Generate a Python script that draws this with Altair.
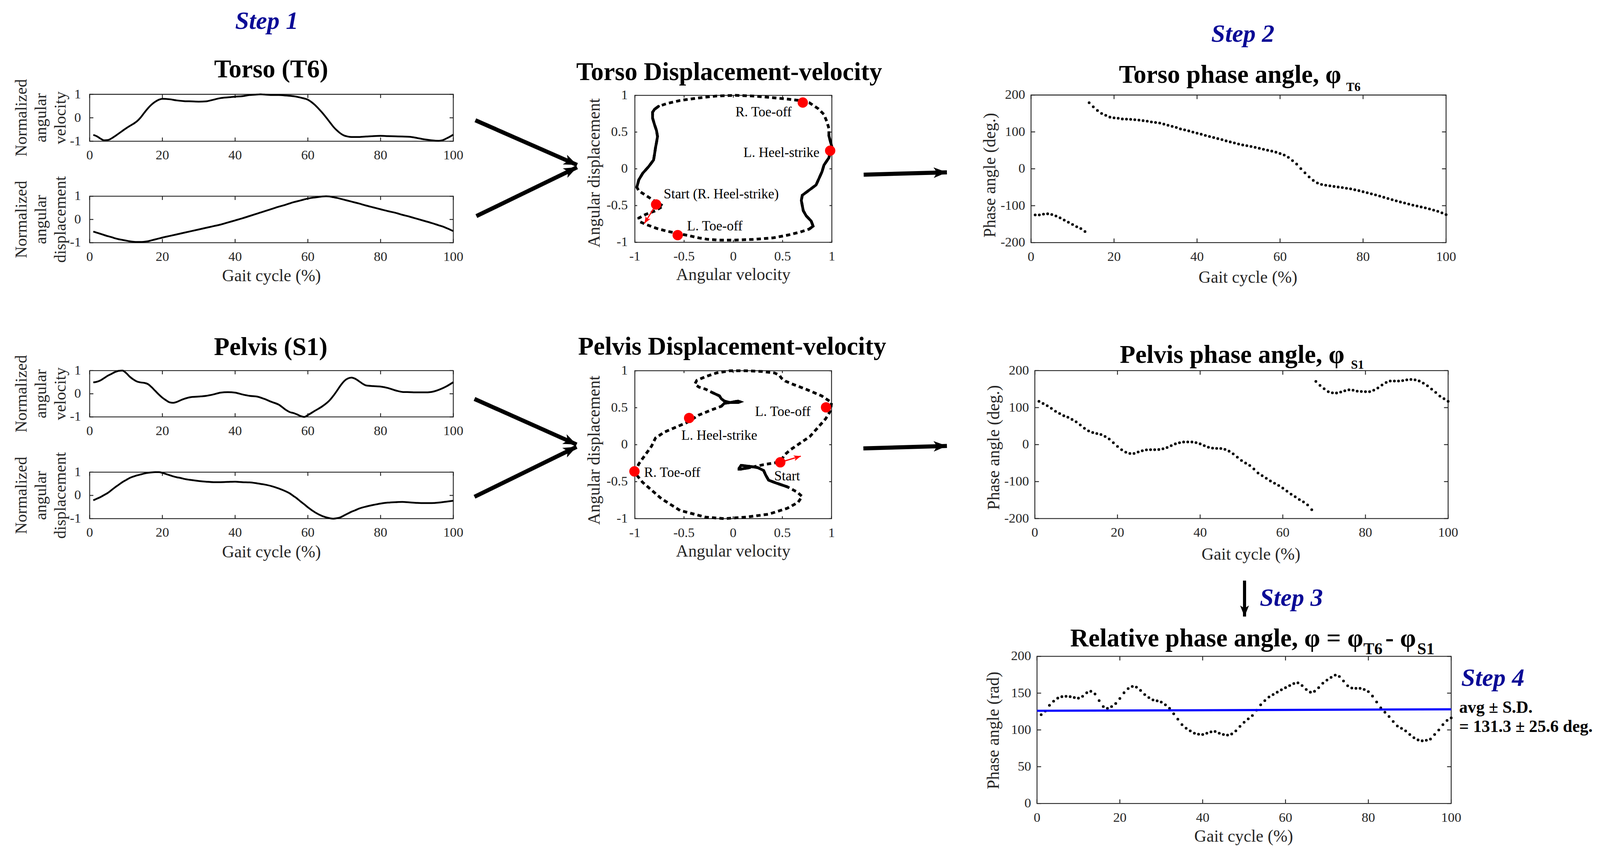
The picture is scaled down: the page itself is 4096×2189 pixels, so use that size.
import math
import altair as alt
import pandas as pd

# ------------------------------------------------------------------
# Values
# ------------------------------------------------------------------
gait_ticks = [0, 20, 40, 60, 80, 100]
norm_ticks = [-1, 0, 1]
portrait_ticks = [-1, -0.5, 0, 0.5, 1]
phase_ticks = [-200, -100, 0, 100, 200]
rel_ticks = [0, 50, 100, 150, 200]

# Torso (T6) normalized angular velocity / displacement vs gait cycle (%)
torso_t = (list(range(1, 21)) + list(range(22, 47, 2)) + [47] + list(range(48, 61, 2))
           + list(range(61, 73)) + list(range(74, 97, 2)) + [97, 98, 99, 100])
torso_vel = [-0.73, -0.79, -0.89, -0.96, -0.95, -0.88, -0.78, -0.67, -0.56, -0.45,
             -0.35, -0.26, -0.15, 0.01, 0.21, 0.40, 0.56, 0.68, 0.77, 0.81,
             0.79, 0.74, 0.71, 0.70, 0.69, 0.70, 0.77, 0.84, 0.87, 0.90, 0.92, 0.97, 0.99,
             1.00,
             0.99, 0.97, 0.97, 0.95, 0.92, 0.86, 0.77,
             0.67, 0.54, 0.38, 0.21, 0.02, -0.18, -0.38, -0.54, -0.67, -0.76, -0.80, -0.82,
             -0.82, -0.80, -0.78, -0.77, -0.78, -0.79, -0.80, -0.81, -0.86, -0.92, -0.96, -0.98,
             -0.96, -0.89, -0.81, -0.72]
torso_disp = [-0.52, -0.57, -0.62, -0.67, -0.72, -0.76, -0.81, -0.85, -0.88, -0.91,
              -0.94, -0.96, -0.97, -0.97, -0.96, -0.94, -0.90, -0.86, -0.82, -0.78,
              -0.71, -0.64, -0.57, -0.50, -0.43, -0.36, -0.29, -0.22, -0.13, -0.04, 0.05, 0.15, 0.25,
              0.30,
              0.35, 0.45, 0.55, 0.64, 0.74, 0.82, 0.90,
              0.93, 0.95, 0.97, 0.99, 1.00, 0.99, 0.96, 0.93, 0.89, 0.85, 0.81, 0.77,
              0.69, 0.60, 0.52, 0.44, 0.36, 0.29, 0.20, 0.12, 0.03, -0.06, -0.15, -0.25,
              -0.30, -0.36, -0.43, -0.50]

# Pelvis (S1)
pelvis_t = (list(range(1, 27)) + list(range(28, 55, 2)) + list(range(55, 61)) + [62, 64, 66]
            + list(range(67, 77)) + list(range(78, 101, 2)))
pelvis_vel = [0.49, 0.52, 0.58, 0.68, 0.78, 0.86, 0.94, 0.99, 1.00, 0.90,
              0.74, 0.62, 0.53, 0.49, 0.47, 0.42, 0.29, 0.13, -0.03, -0.17,
              -0.28, -0.37, -0.39, -0.35, -0.28, -0.22,
              -0.14, -0.12, -0.09, -0.03, 0.05, 0.07, 0.05, -0.03, -0.09, -0.12, -0.22, -0.35, -0.47, -0.70,
              -0.79, -0.83, -0.89, -0.96, -1.00, -0.92,
              -0.73, -0.54, -0.28,
              -0.09, 0.13, 0.36, 0.55, 0.66, 0.70, 0.65, 0.55, 0.44, 0.36,
              0.33, 0.31, 0.25, 0.15, 0.08, 0.07, 0.06, 0.06, 0.08, 0.17, 0.31, 0.50]
pelvis_disp = [-0.21, -0.14, -0.07, 0.02, 0.11, 0.23, 0.35, 0.46, 0.57, 0.66,
               0.75, 0.81, 0.86, 0.90, 0.94, 0.97, 0.99, 1.00, 1.00, 0.97,
               0.92, 0.87, 0.82, 0.78, 0.75, 0.71,
               0.66, 0.62, 0.59, 0.57, 0.57, 0.58, 0.59, 0.57, 0.56, 0.52, 0.47, 0.40, 0.30, 0.17,
               0.09, -0.02, -0.13, -0.26, -0.38, -0.51,
               -0.73, -0.89, -0.98,
               -1.00, -0.98, -0.94, -0.86, -0.78, -0.70, -0.64, -0.57, -0.52, -0.48,
               -0.41, -0.35, -0.31, -0.29, -0.28, -0.30, -0.32, -0.33, -0.33, -0.31, -0.27, -0.23]

# stretches of the displacement-velocity loops that look solid (gait cycle %)
torso_solid = [(19, 50), (70, 96)]
pelvis_solid = [(26, 46), (74, 96)]

# events on the displacement-velocity loops (velocity, displacement)
torso_ev_name = ["Start (R. Heel-strike)", "L. Heel-strike", "R. Toe-off", "L. Toe-off"]
torso_ev_x = [-0.784, 0.983, 0.705, -0.565]
torso_ev_y = [-0.485, 0.247, 0.902, -0.902]
pelvis_ev_name = ["Start", "L. Toe-off", "L. Heel-strike", "R. Toe-off"]
pelvis_ev_x = [0.479, 0.944, -0.448, -1.004]
pelvis_ev_y = [-0.238, 0.505, 0.361, -0.361]

# phase angles (deg.) at each % of the gait cycle
phase_t = list(range(1, 101))
torso_phase = [-125, -125, -123, -122, -124, -128, -133, -139, -145, -151,
               -157, -162, -170, 179, 168, 158, 150, 145, 140, 138,
               137, 135, 134.5, 134, 133, 132, 130.5, 129, 127, 125.5,
               124, 121, 118, 115, 112, 108, 105.5, 102.7, 99.4, 96.5,
               93.7, 90.4, 87.5, 84.7, 81.8, 79, 75.7, 72.8, 70, 67,
               64.6, 62.6, 60.5, 58, 55.6, 52.8, 50.3, 47.9, 45, 41.3,
               37.2, 31, 22, 12.7, 0.4, -11, -22, -31.5, -38.4, -42.5,
               -44.6, -46.2, -47.9, -49.5, -51, -52.8, -54.4, -56.9, -59.3, -62.2,
               -65, -68, -70.8, -74, -77.3, -80.6, -83.8, -87, -90, -92.8,
               -95.7, -98.6, -101, -103.5, -106, -108.8, -112, -115.3, -119.4, -124.3]
pelvis_phase = [117, 111, 105, 98, 90, 84, 78, 74, 68, 61.5,
                53, 44, 37, 32.6, 29.8, 27.3, 22, 15, 5, -5,
                -14, -20.5, -24, -24, -20, -16.7, -14.3, -13.8, -13.8, -13.3,
                -11.3, -7.8, -2.8, 2, 5, 7, 7.2, 7, 5.3, 2,
                -2.8, -7.2, -9.4, -10.2, -10.5, -12.9, -17.8, -25, -34, -43,
                -50, -56.5, -66, -76.7, -84, -91, -98.3, -104.5, -110.5, -117.8,
                -125.8, -134, -141, -148.5, -155, -163, -176, 170.7, 160, 151,
                143, 140, 139.5, 142, 145.5, 148, 147, 144.5, 143.5, 143,
                143, 147, 153, 161, 168, 171.8, 171.8, 171.8, 173, 175,
                176, 175, 172, 166, 159, 150, 141, 131, 124, 117]
rel_phase = [120.7, 125.6, 133.4, 139, 143.2, 145.2, 145.7, 145.2, 144, 143.2,
             145.7, 150.5, 152.5, 148.8, 139.8, 131.7, 129.3, 131.7, 135.9, 142.7,
             150.5, 156.2, 159.1, 158.1, 153.7, 148.1, 143.9, 140.8, 139.5, 137.8,
             134.1, 129.3, 121.9, 114.6, 107.2, 102.3, 98.7, 95.5, 94.2, 93.8,
             95.5, 97.4, 97.9, 95.5, 93.8, 93, 94.5, 98.7, 104.8, 110.4,
             115, 119.5, 126.8, 134.1, 139.8, 144.7, 148.1, 151.3, 154.5, 157.4,
             160.3, 163, 164, 160.3, 155, 151.3, 152.5, 157.4, 163.5, 167.7,
             171.4, 174.5, 172.6, 166.5, 160, 157, 156.5, 156.5, 155, 152,
             146, 138, 130, 124, 118.2, 111.4, 105.3, 102.1, 98.7, 93.8,
             89.4, 86.4, 85.2, 85.9, 87.6, 93.8, 99.9, 107.2, 112.9, 116.3]
avg_t = [0, 100]
avg_val = [126, 128]

# ------------------------------------------------------------------
# Layout (reference pixels -> page pixels)
# ------------------------------------------------------------------
S = 4096.0 / 5478.0
OFF = 8.0
W, H = 4078, 2170
FONT = "Liberation Serif"
AXC = "#262626"
NAVY = "#0b0b96"
RED = "#ff0000"
LBL = 34.4
TTL = 43.4
FW = 2.3
HEAD = "M0,0L-2,-0.8L-1.5,0L-2,0.8Z"


def px(v):
    return v * S - OFF


# panel boxes in reference pixels: left, top, right, bottom
BOX = {
    "tv": (307, 323, 1552, 483.6),
    "td": (307, 672, 1552, 831),
    "pv": (307, 1269, 1552, 1427.6),
    "pd": (307, 1616.7, 1552, 1776),
    "tp": (2173.6, 326.4, 2848, 829.7),
    "pp": (2173.5, 1269.4, 2847, 1775.8),
    "ta": (3530, 325.3, 4951, 830.6),
    "pa": (3543, 1269, 4958, 1775.7),
    "ra": (3550.5, 2247.4, 4968.5, 2751.2),
}


def pbox(key):
    return [px(v) for v in BOX[key]]


def scales(key, xdom, ydom):
    L, T, R, B = pbox(key)
    return (alt.Scale(domain=xdom, range=[L, R], nice=False, zero=False),
            alt.Scale(domain=ydom, range=[B, T], nice=False, zero=False))


def qx(v, xs):
    return alt.XDatum(v, scale=xs, axis=None, type="quantitative")


def qy(v, ys):
    return alt.YDatum(v, scale=ys, axis=None, type="quantitative")


def frame(xs, ys, xdom, ydom, xticks, yticks, tl, xpad, ypad):
    """Box, inward ticks and tick labels of one panel, all through its scales."""
    one = pd.DataFrame({"k": [0]})
    rect = alt.Chart(one).mark_rect(filled=False, stroke=AXC, strokeWidth=FW).encode(
        x=qx(xdom[0], xs), x2=alt.X2Datum(xdom[1]),
        y=qy(ydom[0], ys), y2=alt.Y2Datum(ydom[1]))
    xt = pd.DataFrame({"v": xticks, "lab": [f"{v:g}" for v in xticks]})
    yt = pd.DataFrame({"v": yticks, "lab": [f"{v:g}" for v in yticks]})
    out = [rect]
    for yv, off in ((ydom[0], -tl), (ydom[1], tl)):
        out.append(alt.Chart(xt).mark_rule(color=AXC, strokeWidth=FW, y2Offset=off).encode(
            x=alt.X("v:Q", scale=xs, axis=None), y=qy(yv, ys), y2=alt.Y2Datum(yv)))
    for xv, off in ((xdom[0], tl), (xdom[1], -tl)):
        out.append(alt.Chart(yt).mark_rule(color=AXC, strokeWidth=FW, x2Offset=off).encode(
            y=alt.Y("v:Q", scale=ys, axis=None), x=qx(xv, xs), x2=alt.X2Datum(xv)))
    out.append(alt.Chart(xt).mark_text(align="center", baseline="alphabetic", dy=xpad, font=FONT,
                                       fontSize=LBL, color=AXC).encode(
        x=alt.X("v:Q", scale=xs, axis=None), y=qy(ydom[0], ys), text="lab:N"))
    out.append(alt.Chart(yt).mark_text(align="right", baseline="middle", dx=-ypad, font=FONT,
                                       fontSize=LBL, color=AXC).encode(
        y=alt.Y("v:Q", scale=ys, axis=None), x=qx(xdom[0], xs), text="lab:N"))
    return out


def heading(dx, dy):
    return math.degrees(math.atan2(dy, dx)) % 360


# ---------------- time-series panels ----------------
def ts_panel(key, t, v):
    xs, ys = scales(key, [0, 100], [-1, 1])
    df = pd.DataFrame({"t": t, "v": v})
    line = alt.Chart(df).mark_line(color="black", strokeWidth=4.5, interpolate="monotone").encode(
        x=alt.X("t:Q", scale=xs, axis=None), y=alt.Y("v:Q", scale=ys, axis=None))
    return alt.layer(*frame(xs, ys, [0, 100], [-1, 1], gait_ticks, norm_ticks, 9.5, 46.5, 22), line)


# ---------------- displacement-velocity panels ----------------
def portrait_panel(key, t, vel, disp, solid, ev_name, ev_x, ev_y, lab_x, lab_y, arr):
    dom = [-1, 1]
    xs, ys = scales(key, dom, dom)
    L, T, R, B = pbox(key)
    ux, uy = (R - L) / 2.0, (B - T) / 2.0
    df = pd.DataFrame({"t": t, "x": vel, "y": disp})
    dashed = alt.Chart(df).mark_line(color="black", strokeWidth=7, strokeDash=[11, 8],
                                     strokeCap="butt").encode(
        x=alt.X("x:Q", scale=xs, axis=None), y=alt.Y("y:Q", scale=ys, axis=None), order="t:Q")
    rows = []
    for i, (a, b) in enumerate(solid):
        for tt, xx, yy in zip(t, vel, disp):
            if a <= tt <= b:
                rows.append({"t": tt, "x": xx, "y": yy, "seg": i})
    sdf = pd.DataFrame(rows)
    solid_l = alt.Chart(sdf).mark_line(color="black", strokeWidth=7, strokeCap="round").encode(
        x=alt.X("x:Q", scale=xs, axis=None), y=alt.Y("y:Q", scale=ys, axis=None),
        detail="seg:N", order="t:Q")
    (ax0, ay0, ax1, ay1) = arr
    adf = pd.DataFrame({"x": [ax0], "y": [ay0], "x2": [ax1], "y2": [ay1],
                        "a": [heading((ax1 - ax0) * ux, -(ay1 - ay0) * uy)]})
    shaft = alt.Chart(adf).mark_rule(color=RED, strokeWidth=3).encode(
        x=alt.X("x:Q", scale=xs, axis=None), y=alt.Y("y:Q", scale=ys, axis=None),
        x2="x2:Q", y2="y2:Q")
    head = alt.Chart(adf).mark_point(shape=HEAD, filled=True, opacity=1, color=RED,
                                     strokeWidth=0, size=324).encode(
        x=alt.X("x2:Q", scale=xs, axis=None), y=alt.Y("y2:Q", scale=ys, axis=None),
        angle=alt.Angle("a:Q", scale=None))
    edf = pd.DataFrame({"x": ev_x, "y": ev_y})
    dots = alt.Chart(edf).mark_circle(color=RED, opacity=1, size=700).encode(
        x=alt.X("x:Q", scale=xs, axis=None), y=alt.Y("y:Q", scale=ys, axis=None))
    ldf = pd.DataFrame({"x": lab_x, "y": lab_y, "txt": ev_name})
    labels = alt.Chart(ldf).mark_text(align="left", baseline="middle", font=FONT,
                                      fontSize=35, color="black").encode(
        x=alt.X("x:Q", scale=xs, axis=None), y=alt.Y("y:Q", scale=ys, axis=None), text="txt:N")
    return alt.layer(*frame(xs, ys, dom, dom, portrait_ticks, portrait_ticks, 6, 47, 18),
                     dashed, solid_l, shaft, head, dots, labels)


# ---------------- phase-angle panels ----------------
def phase_panel(key, t, vals, ydom, yticks, extra=None):
    xs, ys = scales(key, [0, 100], ydom)
    df = pd.DataFrame({"t": t, "v": vals})
    pts = alt.Chart(df).mark_circle(color="black", opacity=1, size=50).encode(
        x=alt.X("t:Q", scale=xs, axis=None), y=alt.Y("v:Q", scale=ys, axis=None))
    layers = frame(xs, ys, [0, 100], ydom, gait_ticks, yticks, 10.5, 46.5, 15) + [pts]
    if extra is not None:
        et, ev = extra
        ldf = pd.DataFrame({"t": et, "v": ev})
        layers.append(alt.Chart(ldf).mark_line(color="#0000ff", strokeWidth=5.5).encode(
            x=alt.X("t:Q", scale=xs, axis=None), y=alt.Y("v:Q", scale=ys, axis=None)))
    return alt.layer(*layers)


# ---------------- overlay: titles, axis titles, step labels, arrows ----------------
ov_x = alt.Scale(domain=[0, 5478], range=[px(0), px(5478)], nice=False, zero=False)
ov_y = alt.Scale(domain=[0, 2927], range=[px(0), px(2927)], nice=False, zero=False)


def mid(key, i, j):
    return (BOX[key][i] + BOX[key][j]) / 2.0


titles_c = {"txt": ["Torso (T6)", "Pelvis (S1)", "Torso Displacement-velocity",
                    "Pelvis Displacement-velocity"],
            "x": [928.5, 927, 2496.5, 2506.7], "y": [265, 1216, 274, 1215]}
titles_l = {"txt": ["Torso phase angle, φ", "Pelvis phase angle, φ",
                    "Relative phase angle, φ = φ", "- φ"],
            "x": [3831, 3834, 3664, 4743], "y": [283, 1242, 2213, 2213]}
subs = {"txt": ["T6", "S1", "T6", "S1"], "x": [4609, 4625.5, 4668, 4852],
        "y": [311, 1262, 2240, 2240], "s": [31.5, 31.5, 42, 42]}
steps = {"txt": ["Step 1", "Step 2", "Step 3", "Step 4"], "x": [805, 4147, 4313, 5003],
         "y": [99.5, 143.6, 2074, 2348.5]}
notes = {"txt": ["avg ± S.D.", "= 131.3 ± 25.6 deg."], "x": [4996, 4996], "y": [2441, 2506]}
xtitles = {"txt": ["Gait cycle (%)", "Gait cycle (%)", "Angular velocity", "Angular velocity",
                   "Gait cycle (%)", "Gait cycle (%)", "Gait cycle (%)"],
           "x": [mid("td", 0, 2), mid("pd", 0, 2), mid("tp", 0, 2), mid("pp", 0, 2),
                 4272.7, 4283, 4258],
           "y": [BOX["td"][3] + 132.4, BOX["pd"][3] + 132.4, BOX["tp"][3] + 129.7,
                 BOX["pp"][3] + 129.7, BOX["ta"][3] + 137.8, BOX["pa"][3] + 140.4,
                 BOX["ra"][3] + 131]}
ytitles = {"txt": ["Angular displacement", "Angular displacement", "Phase angle (deg.)",
                   "Phase angle (deg.)", "Phase angle (rad)"],
           "x": [2053, 2053, 3408, 3421, 3419.5],
           "y": [mid("tp", 1, 3) + 14, mid("pp", 1, 3) + 19, mid("ta", 1, 3) + 22,
                 mid("pa", 1, 3) + 10, mid("ra", 1, 3) + 2]}
ytitles3 = {"txt": ["Normalized\nangular\nvelocity", "Normalized\nangular\ndisplacement",
                    "Normalized\nangular\nvelocity", "Normalized\nangular\ndisplacement"],
            "x": [91, 91, 91, 91],
            "y": [mid("tv", 1, 3), mid("td", 1, 3), mid("pv", 1, 3), mid("pd", 1, 3)]}
arrows = {"x": [1627.5, 1631, 1624.5, 1624.5, 2957, 2956, 4261],
          "y": [411.7, 740, 1366, 1701, 598, 1535.5, 1988],
          "x2": [1975.7, 1975.7, 1974, 1974, 3242, 3242, 4261],
          "y2": [564.8, 572.8, 1522, 1530, 590, 1527, 2111],
          "w": [10.5, 10.5, 10.5, 10.5, 10.5, 10.5, 8],
          "hs": [1156, 1156, 1156, 1156, 1156, 1156, 800]}
arrows["a"] = [heading(x2 - x1, y2 - y1) for x1, y1, x2, y2 in
               zip(arrows["x"], arrows["y"], arrows["x2"], arrows["y2"])]


def ov_xy(xf="x", yf="y"):
    return dict(x=alt.X(xf + ":Q", scale=ov_x, axis=None), y=alt.Y(yf + ":Q", scale=ov_y, axis=None))


def ov_text(d, **mk):
    return alt.Chart(pd.DataFrame(d)).mark_text(font=FONT, **mk).encode(text="txt:N", **ov_xy())


ov_layers = [
    ov_text(titles_c, align="center", baseline="alphabetic", fontWeight="bold", fontSize=65,
            color="black"),
    ov_text(titles_l, align="left", baseline="alphabetic", fontWeight="bold", fontSize=65,
            color="black"),
    alt.Chart(pd.DataFrame(subs)).mark_text(align="left", baseline="alphabetic", font=FONT,
                                            fontWeight="bold", color="black")
    .encode(text="txt:N", size=alt.Size("s:Q", scale=None), **ov_xy()),
    ov_text(steps, align="left", baseline="alphabetic", fontWeight="bold", fontStyle="italic",
            fontSize=64, color=NAVY),
    ov_text(notes, align="left", baseline="alphabetic", fontWeight="bold", fontSize=43.4,
            color="black"),
    ov_text(xtitles, align="center", baseline="alphabetic", fontSize=TTL, color=AXC),
    ov_text(ytitles, align="center", baseline="alphabetic", fontSize=TTL, color=AXC, angle=270),
    ov_text(ytitles3, align="center", baseline="alphabetic", fontSize=42, color=AXC, angle=270,
            lineBreak="\n", lineHeight=50),
    alt.Chart(pd.DataFrame(arrows)).mark_rule(color="black", strokeCap="butt")
    .encode(x2="x2:Q", y2="y2:Q", strokeWidth=alt.StrokeWidth("w:Q", scale=None), **ov_xy()),
    alt.Chart(pd.DataFrame(arrows)).mark_point(shape=HEAD, filled=True, opacity=1, color="black",
                                               strokeWidth=0)
    .encode(angle=alt.Angle("a:Q", scale=None), size=alt.Size("hs:Q", scale=None),
            **ov_xy("x2", "y2")),
]
overlay = alt.layer(*ov_layers)

# ---------------- assemble ----------------
panels = [
    ts_panel("tv", torso_t, torso_vel),
    ts_panel("td", torso_t, torso_disp),
    ts_panel("pv", pelvis_t, pelvis_vel),
    ts_panel("pd", pelvis_t, pelvis_disp),
    portrait_panel("tp", torso_t, torso_vel, torso_disp, torso_solid, torso_ev_name,
                   torso_ev_x, torso_ev_y, [-0.707, 0.103, 0.021, -0.470],
                   [-0.342, 0.22, 0.77, -0.781], (-0.784, -0.485, -0.903, -0.743)),
    portrait_panel("pp", pelvis_t, pelvis_vel, pelvis_disp, pelvis_solid, pelvis_ev_name,
                   pelvis_ev_x, pelvis_ev_y, [0.417, 0.223, -0.527, -0.906],
                   [-0.424, 0.446, 0.126, -0.379], (0.479, -0.238, 0.6875, -0.155)),
    phase_panel("ta", phase_t, torso_phase, [-200, 200], phase_ticks),
    phase_panel("pa", phase_t, pelvis_phase, [-200, 200], phase_ticks),
    phase_panel("ra", phase_t, rel_phase, [0, 200], rel_ticks, extra=(avg_t, avg_val)),
]

chart = (
    alt.layer(*panels, overlay)
    .resolve_scale(x="independent", y="independent")
    .properties(width=W, height=H, padding=0, autosize=alt.AutoSizeParams(type="none"))
    .configure(font=FONT, background="white")
    .configure_view(stroke=None)
)

chart.save("out.html", embed_options={"renderer": "svg", "actions": False})
